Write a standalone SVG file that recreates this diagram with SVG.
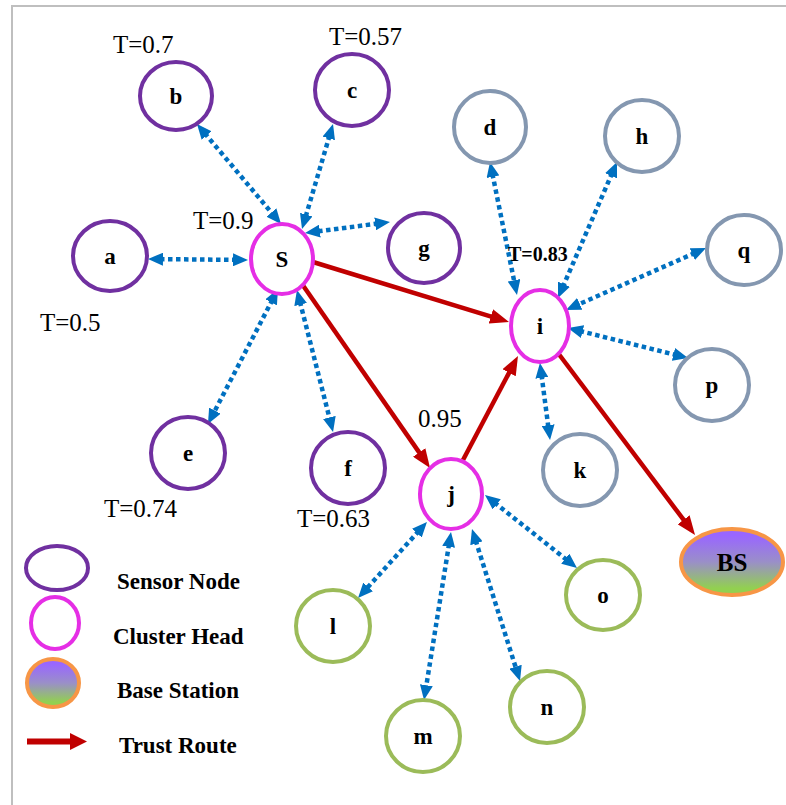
<svg xmlns="http://www.w3.org/2000/svg" width="786" height="805" viewBox="0 0 786 805">
  <defs>
    <marker id="blueHead" viewBox="0 0 15 13" refX="3" refY="6.5" markerWidth="15" markerHeight="13" markerUnits="userSpaceOnUse" orient="auto-start-reverse">
      <path d="M0,0 L15,6.5 L0,13 z" fill="#0070c0"/>
    </marker>
    <marker id="redHead" viewBox="0 0 19 15" refX="3" refY="7.5" markerWidth="19" markerHeight="15" markerUnits="userSpaceOnUse" orient="auto">
      <path d="M0,0 L19,7.5 L0,15 z" fill="#c00000"/>
    </marker>
    <linearGradient id="bsFill" x1="0" y1="0" x2="0" y2="1">
      <stop offset="0.1" stop-color="#9966ff"/>
      <stop offset="0.5" stop-color="#9a8fc8"/>
      <stop offset="0.9" stop-color="#92d050"/>
    </linearGradient>
    <style>
      .sensor { fill: #ffffff; stroke: #7030a0; stroke-width: 4; }
      .head { fill: #ffffff; stroke: #e52ee5; stroke-width: 4; }
      .grey { fill: #ffffff; stroke: #8497b0; stroke-width: 4; }
      .green { fill: #ffffff; stroke: #9bbb59; stroke-width: 4; }
      .bs { fill: url(#bsFill); stroke: #f79646; stroke-width: 4; }
      .lbl { font-family: "Liberation Serif", "Times New Roman", "DejaVu Serif", serif; font-weight: bold; font-size: 23px; text-anchor: middle; fill: #000; }
      .trust { font-family: "Liberation Serif", "Times New Roman", "DejaVu Serif", serif; font-weight: normal; font-size: 25px; fill: #000; }
      .trustB { font-family: "Liberation Serif", "Times New Roman", "DejaVu Serif", serif; font-size: 20px; font-weight: bold; fill: #000; }
      .legend { font-family: "Liberation Serif", "Times New Roman", "DejaVu Serif", serif; font-weight: bold; font-size: 23px; fill: #000; }
      .link { stroke: #0070c0; stroke-width: 4.5; stroke-dasharray: 4.5 3.5; fill: none; marker-start: url(#blueHead); marker-end: url(#blueHead); }
      .route { stroke: #c00000; stroke-width: 4.5; fill: none; marker-end: url(#redHead); }
    </style>
  </defs>

  <rect width="786" height="805" fill="#ffffff"/>
  <!-- frame -->
  <path d="M12,805 L12,6 L786,6" fill="none" stroke="#bfbfbf" stroke-width="2"/>

  <!-- connectors -->
  <g id="connectors">
    <line class="link" x1="160" y1="259.1" x2="236" y2="259.9"/>
    <line class="link" x1="204.7" y1="133.2" x2="273.3" y2="214.8"/>
    <line class="link" x1="329.6" y1="135.5" x2="305.4" y2="217.5"/>
    <line class="link" x1="378.1" y1="223.5" x2="316.9" y2="231.5"/>
    <line class="link" x1="272.5" y1="299.7" x2="213.5" y2="413.3"/>
    <line class="link" x1="299.9" y1="301.6" x2="330.1" y2="420.4"/>
    <line class="link" x1="492.4" y1="173.8" x2="514.6" y2="283.2"/>
    <line class="link" x1="612.2" y1="173" x2="562.8" y2="287"/>
    <line class="link" x1="695" y1="252.9" x2="577" y2="305.1"/>
    <line class="link" x1="579.6" y1="330.9" x2="676.4" y2="355.1"/>
    <line class="link" x1="541.5" y1="374.9" x2="548.5" y2="428.1"/>
    <line class="link" x1="418.9" y1="530.9" x2="366.1" y2="589.1"/>
    <line class="link" x1="449.1" y1="543.8" x2="425.9" y2="688.2"/>
    <line class="link" x1="475.6" y1="540.4" x2="516.4" y2="669.6"/>
    <line class="link" x1="494.4" y1="502.5" x2="567.6" y2="560.5"/>

    <line class="route" x1="313" y1="262" x2="493.7" y2="317.3"/>
    <line class="route" x1="302" y1="284" x2="420.9" y2="454.9"/>
    <line class="route" x1="463" y1="460" x2="510.5" y2="370.1"/>
    <line class="route" x1="555" y1="349" x2="685.4" y2="522.2"/>
  </g>

  <!-- sensor nodes -->
  <g id="node-a"><ellipse class="sensor" cx="110" cy="256" rx="37" ry="35"/><text class="lbl" x="110" y="264">a</text></g>
  <g id="node-b"><ellipse class="sensor" cx="176" cy="96" rx="36" ry="34"/><text class="lbl" x="176" y="104">b</text></g>
  <g id="node-c"><ellipse class="sensor" cx="352" cy="90" rx="37" ry="36"/><text class="lbl" x="352" y="98">c</text></g>
  <g id="node-g"><ellipse class="sensor" cx="424" cy="248" rx="36" ry="35"/><text class="lbl" x="424" y="256">g</text></g>
  <g id="node-e"><ellipse class="sensor" cx="188" cy="453" rx="37" ry="36"/><text class="lbl" x="188" y="461">e</text></g>
  <g id="node-f"><ellipse class="sensor" cx="348" cy="468" rx="37" ry="36"/><text class="lbl" x="348" y="476">f</text></g>

  <!-- cluster heads -->
  <g id="node-S"><ellipse class="head" cx="282" cy="259" rx="31" ry="35"/><text class="lbl" x="282" y="267">S</text></g>
  <g id="node-i"><ellipse class="head" cx="540" cy="326" rx="29" ry="36"/><text class="lbl" x="540" y="334">i</text></g>
  <g id="node-j"><ellipse class="head" cx="451" cy="494" rx="31" ry="35"/><text class="lbl" x="451" y="502">j</text></g>

  <!-- nodes around i -->
  <g id="node-d"><ellipse class="grey" cx="490" cy="127" rx="36" ry="36"/><text class="lbl" x="490" y="135">d</text></g>
  <g id="node-h"><ellipse class="grey" cx="642" cy="136" rx="37" ry="36"/><text class="lbl" x="642" y="144">h</text></g>
  <g id="node-q"><ellipse class="grey" cx="744" cy="250" rx="37" ry="35"/><text class="lbl" x="744" y="258">q</text></g>
  <g id="node-p"><ellipse class="grey" cx="712" cy="385" rx="37" ry="36"/><text class="lbl" x="712" y="393">p</text></g>
  <g id="node-k"><ellipse class="grey" cx="580" cy="470" rx="37" ry="36"/><text class="lbl" x="580" y="478">k</text></g>

  <!-- nodes around j -->
  <g id="node-l"><ellipse class="green" cx="333" cy="626" rx="37" ry="36"/><text class="lbl" x="333" y="634">l</text></g>
  <g id="node-m"><ellipse class="green" cx="423" cy="736" rx="37" ry="36"/><text class="lbl" x="423" y="744">m</text></g>
  <g id="node-n"><ellipse class="green" cx="547" cy="707" rx="37" ry="36"/><text class="lbl" x="547" y="715">n</text></g>
  <g id="node-o"><ellipse class="green" cx="603" cy="595" rx="37" ry="35"/><text class="lbl" x="603" y="603">o</text></g>

  <!-- base station -->
  <g id="node-BS"><ellipse class="bs" cx="732" cy="562" rx="51" ry="33"/><text class="lbl" x="732" y="571" style="font-size:25px">BS</text></g>

  <!-- trust values -->
  <g id="trust-values">
    <text class="trust" x="113" y="53">T=0.7</text>
    <text class="trust" x="329" y="45">T=0.57</text>
    <text class="trust" x="193" y="229">T=0.9</text>
    <text class="trust" x="40" y="331">T=0.5</text>
    <text class="trust" x="104" y="517">T=0.74</text>
    <text class="trust" x="297" y="527">T=0.63</text>
    <text class="trust" x="418" y="427">0.95</text>
    <text class="trustB" x="508" y="261">T=0.83</text>
  </g>

  <!-- legend -->
  <g id="legend">
    <ellipse class="sensor" cx="57" cy="568" rx="31" ry="22"/>
    <text class="legend" x="117" y="589">Sensor Node</text>
    <ellipse class="head" cx="55" cy="623" rx="24" ry="26"/>
    <text class="legend" x="113" y="644">Cluster Head</text>
    <ellipse class="bs" cx="53" cy="683" rx="26" ry="24"/>
    <text class="legend" x="117" y="698">Base Station</text>
    <line x1="27" y1="741.5" x2="72" y2="741.5" stroke="#c00000" stroke-width="6"/>
    <path d="M70,733 L87,741.5 L70,750 z" fill="#c00000"/>
    <text class="legend" x="119" y="753">Trust Route</text>
  </g>
</svg>
